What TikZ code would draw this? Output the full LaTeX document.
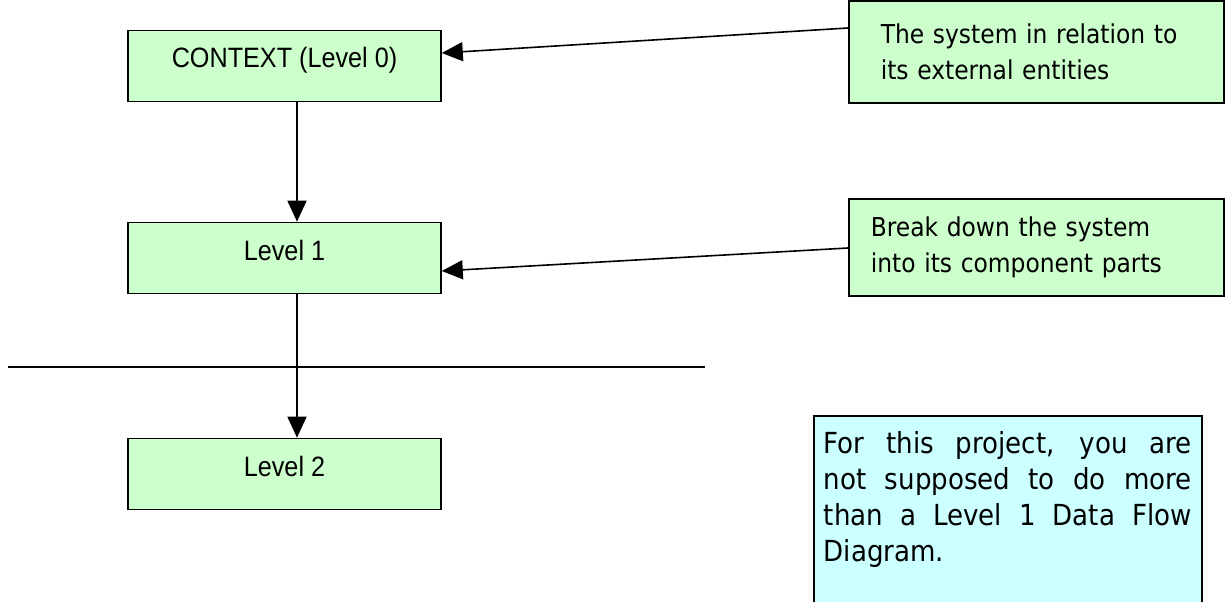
\documentclass[tikz,border=0pt]{standalone}
\usepackage{fontspec}
\setmainfont{DejaVu Sans Condensed}
\newfontfamily\levelfont[FakeStretch=0.9]{Liberation Sans}
\usetikzlibrary{arrows.meta}

\definecolor{levelgreen}{HTML}{CCFFCC}
\definecolor{notecyan}{HTML}{CCFFFF}

\tikzset{
  levelbox/.style={draw,line width=1.6pt,fill=levelgreen,minimum width=313pt,minimum height=71pt,
    text height=20pt,text depth=16pt,font=\levelfont\fontsize{28pt}{30pt}\selectfont},
  callout/.style={draw,line width=1.6pt,fill=levelgreen,anchor=north west,align=left,
    minimum width=375pt,font=\fontsize{26pt}{36pt}\selectfont},
  flow/.style={line width=1.6pt,-{Triangle[length=21pt,width=19pt]}}
}

\begin{document}
\begin{tikzpicture}[x=1pt,y=-1pt]
\useasboundingbox (0,0) rectangle (1229,602);
\clip (0,0) rectangle (1229,602);

\node[levelbox] (ctx) at (284.5,66) {CONTEXT (Level 0)};
\node[levelbox] (lvl1) at (284.5,258) {Level 1};
\node[levelbox] (lvl2) at (284.5,474) {Level 2};

\node[callout,inner xsep=32pt,text width=311pt,minimum height=102pt] (note1) at (848,0)
  {The system in relation to\\its external entities};
\node[callout,inner xsep=22pt,text width=331pt,minimum height=97pt] (note2) at (848,198)
  {Break down the system\\into its component parts};

\node[draw,line width=1.6pt,fill=notecyan,anchor=north west,inner xsep=10pt,inner ysep=16pt,
  text width=368pt,align=justify,font=\fontsize{29pt}{36pt}\selectfont] (proj) at (813,415)
  {For this project, you are\linebreak not supposed to do more\linebreak than a Level 1 Data Flow\linebreak Diagram.\rule[-70pt]{0pt}{70pt}};

\coordinate (cutL) at (8,367);
\coordinate (cutR) at (705,367);
\draw[line width=1.6pt] (cutL) -- (cutR);

\draw[flow] ([xshift=12.5pt]ctx.south) -- ([xshift=12.5pt]lvl1.north);
\draw[flow] ([xshift=12.5pt]lvl1.south) -- ([xshift=12.5pt]lvl2.north);
\draw[flow] ([yshift=-28pt]note1.north west) -- ([yshift=13pt]ctx.east);
\draw[flow] ([yshift=-50pt]note2.north west) -- ([yshift=-13pt]lvl1.east);

\end{tikzpicture}
\end{document}
